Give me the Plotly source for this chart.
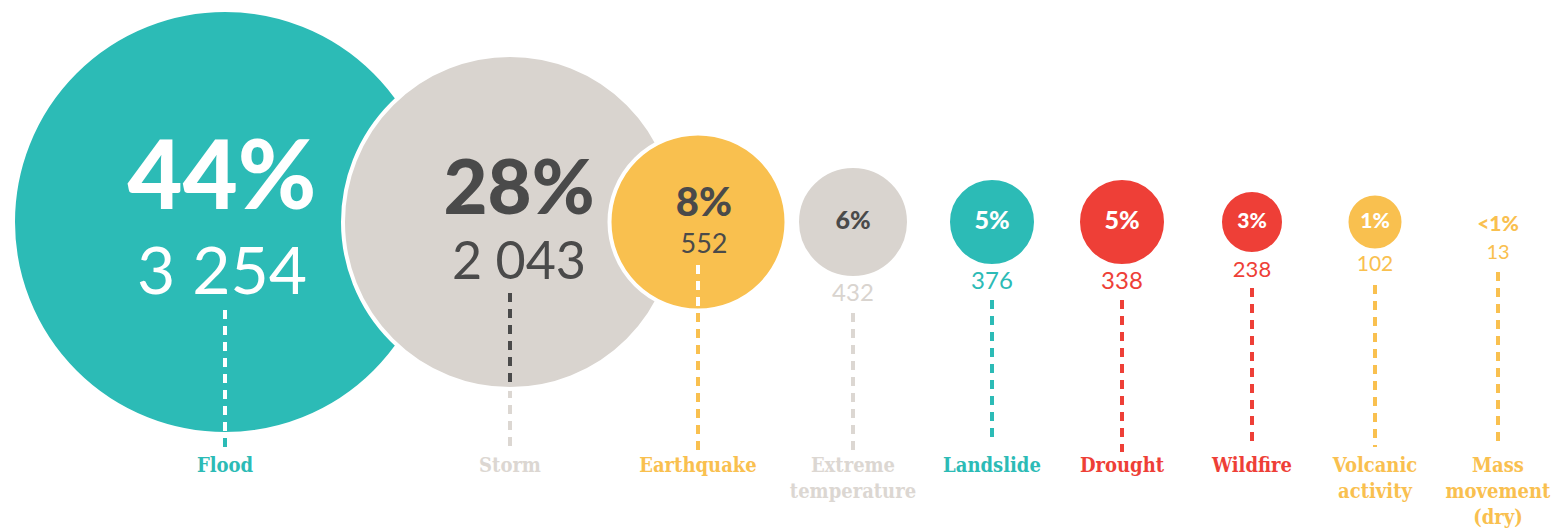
import plotly.graph_objects as go

# ---------------- data ----------------
categories = ["Flood", "Storm", "Earthquake", "Extreme temperature", "Landslide",
              "Drought", "Wildfire", "Volcanic activity", "Mass movement (dry)"]
label_lines = [["Flood"], ["Storm"], ["Earthquake"], ["Extreme", "temperature"],
               ["Landslide"], ["Drought"], ["Wildfire"], ["Volcanic", "activity"],
               ["Mass", "movement", "(dry)"]]
events = [3254, 2043, 552, 432, 376, 338, 238, 102, 13]
pct_labels = ["44%", "28%", "8%", "6%", "5%", "5%", "3%", "1%", "<1%"]

# ---------------- style / layout ----------------
TEAL = "#2CBBB6"
LIGHT = "#D9D4CF"
LABEL_LIGHT = "#DCD7D2"
YELLOW = "#F9C04F"
RED = "#EE3F37"
DARK = "#4A4A4A"
WHITE = "#FFFFFF"

x_pos = [225, 510, 698, 853, 992, 1122, 1252, 1375, 1498]
text_x = [222, 519, 704, 853, 992, 1122, 1252, 1375, 1498]
cy = 222
radius = [210, 165, 86.5, 54, 42, 42, 30, 26.5, 0]
main_color = [TEAL, LIGHT, YELLOW, LIGHT, TEAL, RED, RED, YELLOW, YELLOW]
label_color = [TEAL, LABEL_LIGHT, YELLOW, LABEL_LIGHT, TEAL, RED, RED, YELLOW, YELLOW]
inner_line_color = [WHITE, DARK, WHITE, None, None, None, None, None, None]

pct_y = [185, 195, 206, 223, 223, 223, 223, 223, 226]
pct_size = [95, 76, 40, 25, 25, 25, 21, 21, 21]
pct_color = [WHITE, DARK, DARK, DARK, WHITE, WHITE, WHITE, WHITE, YELLOW]

cnt_y = [277, 266, 246, 295, 283, 283, 271, 266, 254]
cnt_size = [66, 52, 27, 24, 24, 24, 22, 21, 20]
cnt_color = [WHITE, DARK, DARK, LIGHT, TEAL, RED, RED, YELLOW, YELLOW]

line_top = [310, 293, 265, 313, 300, 300, 288, 285, 272]
line_bottom = [452, 452, 450, 450, 443, 452, 447, 447, 447]

label_y0 = 467
label_size = 20
label_dy = label_size * 1.3
OUTLINE = 4
DASH = "9px,7px"

fig = go.Figure()

# outer (category-coloured) dashed leader lines, beneath the bubbles
for i in range(len(categories)):
    fig.add_trace(go.Scatter(
        x=[x_pos[i], x_pos[i]], y=[line_top[i], line_bottom[i]], mode="lines",
        line=dict(color=label_color[i], width=4, dash=DASH),
        hoverinfo="skip", showlegend=False))

# bubbles
fig.add_trace(go.Scatter(
    x=x_pos, y=[cy] * len(x_pos), mode="markers",
    marker=dict(size=[2 * r + OUTLINE if r > 0 else 0 for r in radius],
                color=main_color, opacity=1,
                line=dict(color=WHITE, width=OUTLINE)),
    customdata=events, text=categories,
    hovertemplate="%{text}: %{customdata}<extra></extra>", showlegend=False))

# inner dashed segments (inside bubbles)
for i in range(len(categories)):
    if inner_line_color[i] is None:
        continue
    fig.add_trace(go.Scatter(
        x=[x_pos[i], x_pos[i]], y=[line_top[i], cy + radius[i]], mode="lines",
        line=dict(color=inner_line_color[i], width=4, dash=DASH),
        hoverinfo="skip", showlegend=False))

# percentage labels
fig.add_trace(go.Scatter(
    x=text_x, y=pct_y, mode="text", text=pct_labels, textposition="middle center",
    textfont=dict(family="Lato", size=pct_size, color=pct_color, weight=900),
    hoverinfo="skip", showlegend=False))

# count labels
cnt_text = [f"{v:,}".replace(",", " ") for v in events]
fig.add_trace(go.Scatter(
    x=text_x, y=cnt_y, mode="text", text=cnt_text, textposition="middle center",
    textfont=dict(family="Lato", size=cnt_size, color=cnt_color, weight=400),
    hoverinfo="skip", showlegend=False))

# category labels (multi-line blocks, centred so the first line sits at label_y0)
lab_text = ["<br>".join(lines) for lines in label_lines]
lab_y = [label_y0 + (len(lines) - 1) * label_dy / 2 for lines in label_lines]
fig.add_trace(go.Scatter(
    x=x_pos, y=lab_y, mode="text", text=lab_text, textposition="middle center",
    textfont=dict(family="DejaVu Serif Condensed, DejaVu Serif", size=label_size,
                  color=label_color, weight="bold"),
    hoverinfo="skip", showlegend=False))

fig.update_layout(
    width=1565, height=530,
    margin=dict(l=0, r=0, t=0, b=0),
    paper_bgcolor="white", plot_bgcolor="white",
    xaxis=dict(range=[0, 1565], visible=False, fixedrange=True),
    yaxis=dict(range=[530, 0], visible=False, fixedrange=True),
    showlegend=False,
)

fig.write_html("out.html", config={"displayModeBar": False})
